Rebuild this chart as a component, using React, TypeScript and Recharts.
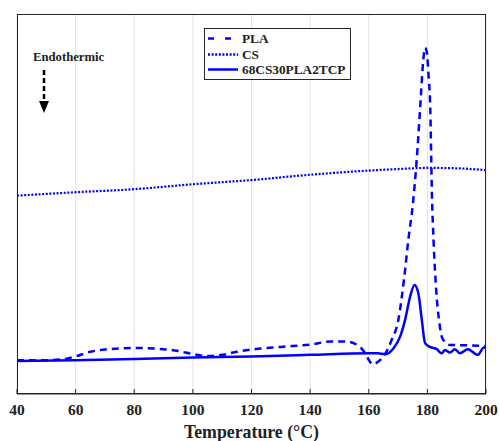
import { LineChart, Line, XAxis, YAxis, CartesianGrid } from 'recharts'

const tempTicks = [40, 60, 80, 100, 120, 140, 160, 180, 200]

// PLA (dashed)
const plaTemp = [40, 50, 56, 60, 65, 70, 80, 90, 95, 100, 105, 110, 115, 120, 130, 140, 147, 152.5, 157, 158.7, 160.4, 161.6, 163, 165, 167.8, 170.1, 172, 173.5, 175.2, 176.6, 177.7, 178.6, 179.2, 179.8, 180.5, 180.9, 181.6, 182.1, 183, 184.1, 184.9, 186, 187.7, 195, 200]
const plaHeat = [8.9, 8.9, 9.2, 9.9, 11.1, 11.7, 12.1, 11.8, 11.3, 10.5, 10.0, 10.3, 11.1, 11.7, 12.4, 13.0, 13.8, 13.8, 12.4, 10.8, 8.5, 7.8, 8.4, 9.8, 14.2, 19.5, 30, 40.5, 51.1, 64.2, 77.4, 87.9, 91.1, 90, 82.6, 77.4, 51.1, 40.5, 27.4, 18.7, 15.1, 13.7, 12.9, 12.8, 12.6]

// CS (dotted)
const csTemp = [40, 60, 80, 100, 120, 140, 160, 170, 180, 190, 200]
const csHeat = [52.2, 53.1, 53.9, 55.2, 56.3, 57.7, 58.8, 59.2, 59.5, 59.4, 58.9]

// 68CS30PLA2TCP (solid)
const compTemp = [40, 60, 80, 100, 120, 140, 160, 163, 165.6, 168.4, 170.7, 172.4, 174.1, 175.6, 176.9, 178.1, 179.2, 180.9, 183.2, 184.9, 186, 187.7, 189.4, 191.1, 193.8, 197.2, 199, 200]
const compHeat = [8.7, 8.9, 9.2, 9.6, 9.9, 10.3, 10.7, 10.7, 10.5, 12.0, 15.1, 19.5, 25.6, 28.7, 26.6, 19.5, 13.4, 12.4, 11.8, 10.7, 11.6, 10.9, 11.8, 10.7, 11.8, 10.3, 12.1, 12.4]

const seriesNames = ['PLA', 'CS', '68CS30PLA2TCP']

const plaData = plaTemp.map((t, i) => ({ t, v: plaHeat[i] }))
const csData = csTemp.map((t, i) => ({ t, v: csHeat[i] }))
const compData = compTemp.map((t, i) => ({ t, v: compHeat[i] }))

const FONT = '"Liberation Serif", "Times New Roman", serif'
const BLUE = '#0000ff'
const AXIS = '#262626'

const BottomTick = (props: any) => {
  const { x, y, payload } = props
  return (
    <g>
      <line x1={x} x2={x} y1={y} y2={y - 5} stroke={AXIS} />
      <text x={x} y={y + 21} textAnchor="middle" fontFamily={FONT} fontWeight="bold" fontSize={15.5} fill="#222">
        {payload.value}
      </text>
    </g>
  )
}

const TopTick = (props: any) => {
  const { x, y } = props
  return <line x1={x} x2={x} y1={y} y2={y + 5} stroke={AXIS} />
}

export default function App() {
  return (
    <div style={{ position: 'absolute', left: 0, top: 0, width: 499, height: 441, background: '#fff' }}>
      <LineChart width={499} height={441} margin={{ top: 14, right: 13, left: 17, bottom: 0 }}>
        <CartesianGrid horizontal={false} stroke="#e3e3e3" />
        <XAxis
          dataKey="t"
          type="number"
          domain={[40, 200]}
          ticks={tempTicks}
          height={47}
          tickSize={0}
          tickMargin={0}
          tickLine={false}
          tick={BottomTick}
          axisLine={{ stroke: AXIS }}
          allowDataOverflow
          label={{ value: 'Temperature (°C)', position: 'insideBottom', offset: 3, fontFamily: FONT, fontWeight: 'bold', fontSize: 17.8, fill: '#222' }}
        />
        <XAxis
          xAxisId="top"
          orientation="top"
          type="number"
          domain={[40, 200]}
          ticks={tempTicks}
          height={0}
          tickSize={0}
          tickMargin={0}
          tickLine={false}
          tick={TopTick}
          axisLine={{ stroke: AXIS }}
          allowDataOverflow
        />
        <YAxis domain={[0, 100]} width={0} tick={false} tickLine={false} axisLine={{ stroke: AXIS }} allowDataOverflow />
        <YAxis yAxisId="r" orientation="right" domain={[0, 100]} width={0} tick={false} tickLine={false} axisLine={{ stroke: AXIS }} />
        <Line data={csData} dataKey="v" name={seriesNames[1]} type="monotone" stroke={BLUE} strokeWidth={2.2} strokeDasharray="2 1.6" dot={false} isAnimationActive={false} />
        <Line data={compData} dataKey="v" name={seriesNames[2]} type="monotone" stroke={BLUE} strokeWidth={2.5} dot={false} isAnimationActive={false} />
        <Line data={plaData} dataKey="v" name={seriesNames[0]} type="monotone" stroke={BLUE} strokeWidth={2.5} strokeDasharray="7 5" dot={false} isAnimationActive={false} />
      </LineChart>

      {/* plot frame */}
      <div
        style={{
          position: 'absolute',
          left: 17,
          top: 14,
          width: 469,
          height: 380,
          border: `1px solid ${AXIS}`,
          boxSizing: 'border-box',
          pointerEvents: 'none',
        }}
      />

      {/* legend */}
      <div
        style={{
          position: 'absolute',
          left: 204,
          top: 28,
          width: 147,
          height: 52,
          border: `1px solid ${AXIS}`,
          background: '#fff',
          boxSizing: 'border-box',
        }}
      >
        {seriesNames.map((name, i) => (
          <div key={name} style={{ position: 'absolute', left: 1, top: 2 + i * 15.7, height: 15, display: 'flex', alignItems: 'center' }}>
            <svg width={33} height={15}>
              <line
                x1={2}
                x2={32}
                y1={7.5}
                y2={7.5}
                stroke={BLUE}
                strokeWidth={2.5}
                strokeDasharray={i === 0 ? '6 11' : i === 1 ? '2 1.6' : undefined}
              />
            </svg>
            <span style={{ fontFamily: FONT, fontWeight: 'bold', fontSize: 13.3, color: '#222', marginLeft: 3, lineHeight: '15px' }}>{name}</span>
          </div>
        ))}
      </div>

      {/* endothermic annotation */}
      <div style={{ position: 'absolute', left: 33, top: 49, fontFamily: FONT, fontWeight: 'bold', fontSize: 12.7, color: '#222', lineHeight: '16px' }}>
        Endothermic
      </div>
      <svg style={{ position: 'absolute', left: 36, top: 68 }} width={16} height={48}>
        <line x1={8} x2={8} y1={2} y2={34} stroke="#000" strokeWidth={2.5} strokeDasharray="5 3" />
        <polygon points="3,33 13,33 8,45" fill="#000" />
      </svg>
    </div>
  )
}
